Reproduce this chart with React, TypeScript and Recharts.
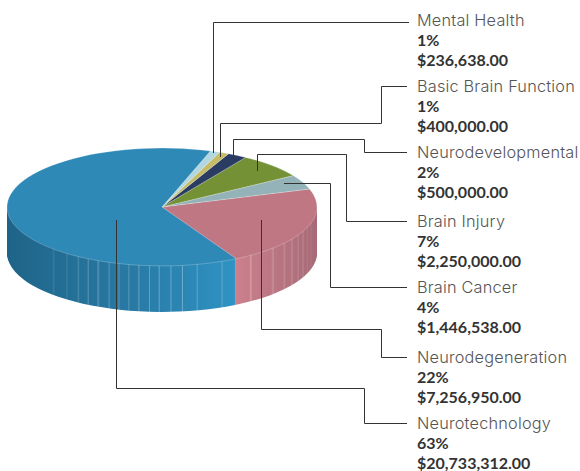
import { PieChart, Pie, Cell } from 'recharts'

// order is counter-clockwise starting at the blue/pink seam on the front of the pie
const names = ['Neurodegeneration', 'Brain Cancer', 'Brain Injury', 'Neurodevelopmental', 'Basic Brain Function', 'Mental Health', 'Neurotechnology']
const percents = [22, 4, 7, 2, 1, 1, 63]
const colors = ['#bf7783', '#94b3b8', '#749136', '#2b3c62', '#c6bb66', '#b2d7e0', '#2e89b7']

// wall facets in degrees, left edge of the pie round to the right edge
const blueFacets = [45.3, 6.6, 5.3, 4.3, 4.1, 4.4, 3.9, 3.8, 3.8, 4, 3.6, 4.4, 4.3, 5.6, 9.8, 5.4]
const pinkFacets = [6.9, 10.8, 6.5, 4.9, 4.4, 4, 4.3, 4.2, 15.4]

const labelNames = ['Mental Health', 'Basic Brain Function', 'Neurodevelopmental', 'Brain Injury', 'Brain Cancer', 'Neurodegeneration', 'Neurotechnology']
const labelPercents = ['1%', '1%', '2%', '7%', '4%', '22%', '63%']
const labelAmounts = ['$236,638.00', '$400,000.00', '$500,000.00', '$2,250,000.00', '$1,446,538.00', '$7,256,950.00', '$20,733,312.00']
const labelBaselines = [26, 92, 158, 227, 293, 363, 429]

const leaders = [
  '213.5,153 213.5,22.5 409,22.5',
  '220.5,157 220.5,123.5 381.5,123.5 381.5,86.5 407,86.5',
  '233.5,156 233.5,139.5 364.5,139.5 364.5,152.5 407,152.5',
  '257.5,171 257.5,154.5 346.5,154.5 346.5,221.5 407,221.5',
  '284,183.5 330.5,183.5 330.5,287.5 407,287.5',
  '261.5,220 261.5,329.5 381.5,329.5 381.5,357.5 407,357.5',
  '116.5,220 116.5,388.5 364.5,388.5 364.5,423.5 407,423.5',
]

const SQUASH = 0.38
const CX = 162
const CY = 207
const RADIUS = 155
const WALL = 46
const START = -61.4
const SEAM = 0.3

const topData = names.map((name, i) => ({ name, value: percents[i] }))
const wallData = [
  { value: blueFacets.reduce((a, b) => a + b, 0), fill: 'url(#wallBlue)' },
  { value: pinkFacets.reduce((a, b) => a + b, 0), fill: 'url(#wallPink)' },
]
// thin light slivers at each facet's end, redrawn on every layer of the wall
const seamData = [...blueFacets, ...pinkFacets].flatMap(value => [
  { value: value - SEAM, fill: 'transparent' },
  { value: SEAM, fill: 'rgba(255,255,255,0.38)' },
])
const layers = Array.from({ length: WALL }, (_, i) => WALL - i)

export default function App() {
  return (
    <div style={{ position: 'absolute', left: 0, top: 0, width: 580, height: 471, overflow: 'hidden', background: '#fff' }}>
      <div style={{ position: 'absolute', left: 0, top: 0, transform: `scaleY(${SQUASH})`, transformOrigin: '0 0' }}>
        <PieChart width={580} height={Math.round(471 / SQUASH)} margin={{ top: 0, right: 0, bottom: 0, left: 0 }}>
          <defs>
            <linearGradient id="wallBlue" gradientUnits="userSpaceOnUse" x1={7} y1={0} x2={236} y2={0}>
              <stop offset="0%" stopColor="#1f6488" />
              <stop offset="55%" stopColor="#287aa5" />
              <stop offset="100%" stopColor="#2f93c3" />
            </linearGradient>
            <linearGradient id="wallPink" gradientUnits="userSpaceOnUse" x1={236} y1={0} x2={318} y2={0}>
              <stop offset="0%" stopColor="#cc808d" />
              <stop offset="100%" stopColor="#a66a76" />
            </linearGradient>
          </defs>
          {layers.flatMap(step => [
            <Pie
              key={`wall-${step}`}
              data={wallData}
              dataKey="value"
              cx={CX}
              cy={(CY + step) / SQUASH}
              outerRadius={RADIUS}
              startAngle={-180}
              endAngle={0}
              stroke="none"
              isAnimationActive={false}
            />,
            <Pie
              key={`seam-${step}`}
              data={seamData}
              dataKey="value"
              cx={CX}
              cy={(CY + step) / SQUASH}
              innerRadius={RADIUS - 16}
              outerRadius={RADIUS}
              startAngle={-180}
              endAngle={0}
              stroke="none"
              isAnimationActive={false}
            />,
          ])}
          <Pie
            data={topData}
            dataKey="value"
            cx={CX}
            cy={CY / SQUASH}
            outerRadius={RADIUS}
            startAngle={START}
            endAngle={START + 360}
            stroke="#ffffff"
            strokeOpacity={0.4}
            strokeWidth={0.8}
            isAnimationActive={false}
          >
            {names.map((name, i) => (
              <Cell key={name} fill={colors[i]} />
            ))}
          </Pie>
        </PieChart>
      </div>
      <svg width={580} height={471} style={{ position: 'absolute', left: 0, top: 0 }}>
        {leaders.map(points => (
          <polyline key={points} points={points} fill="none" stroke="#333" strokeWidth={1} />
        ))}
        {labelNames.map((name, i) => (
          <g key={name}>
            <text x={417} y={labelBaselines[i]} fontFamily="Inter" fill="#555" fontWeight={300} fontSize={16.3} letterSpacing={0.2}>{name}</text>
            <text x={417} y={labelBaselines[i] + 20} fontFamily="Lato" fill="#333" fontWeight={700} fontSize={16}>{labelPercents[i]}</text>
            <text x={417} y={labelBaselines[i] + 39.5} fontFamily="Lato" fill="#333" fontWeight={700} fontSize={16}>{labelAmounts[i]}</text>
          </g>
        ))}
      </svg>
    </div>
  )
}
